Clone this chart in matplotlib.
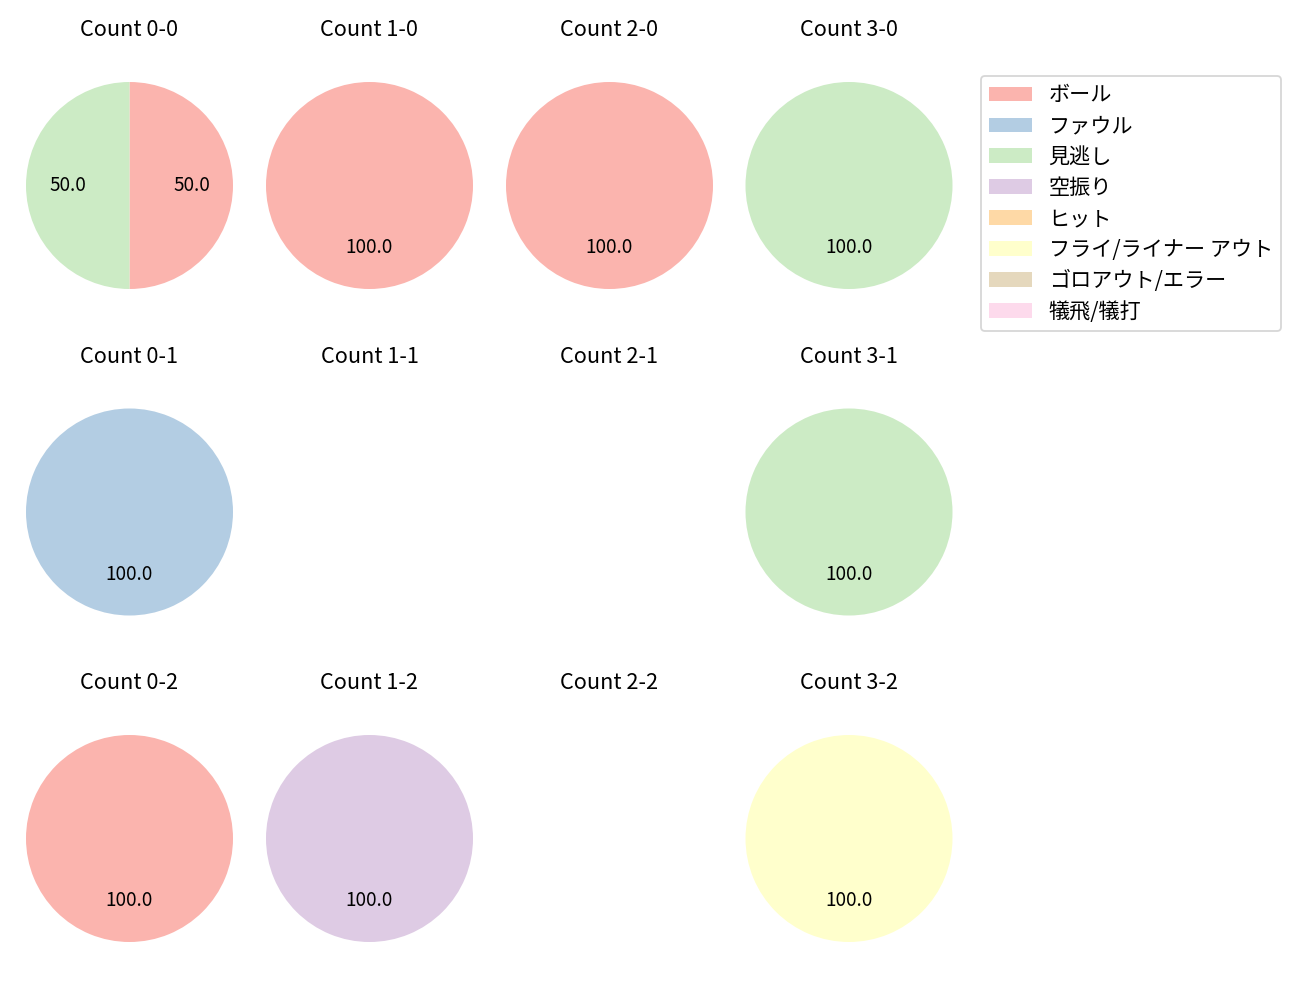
import matplotlib
matplotlib.use("Agg")
import matplotlib.pyplot as plt
from matplotlib.patches import Patch

plt.rcParams['font.family'] = ['Noto Sans CJK JP', 'DejaVu Sans']

categories = ['ボール', 'ファウル', '見逃し', '空振り', 'ヒット',
              'フライ/ライナー アウト', 'ゴロアウト/エラー', '犠飛/犠打']
colors = ['#fbb4ae', '#b3cde3', '#ccebc5', '#decbe4', '#fed9a6',
          '#ffffcc', '#e5d8bd', '#fddaec']

balls = [0, 1, 2, 3]
strikes = [0, 1, 2]

# counts per category for each ball-strike count
count_0_0 = [1, 0, 1, 0, 0, 0, 0, 0]
count_1_0 = [1, 0, 0, 0, 0, 0, 0, 0]
count_2_0 = [1, 0, 0, 0, 0, 0, 0, 0]
count_3_0 = [0, 0, 1, 0, 0, 0, 0, 0]
count_0_1 = [0, 1, 0, 0, 0, 0, 0, 0]
count_1_1 = [0, 0, 0, 0, 0, 0, 0, 0]
count_2_1 = [0, 0, 0, 0, 0, 0, 0, 0]
count_3_1 = [0, 0, 1, 0, 0, 0, 0, 0]
count_0_2 = [1, 0, 0, 0, 0, 0, 0, 0]
count_1_2 = [0, 0, 0, 1, 0, 0, 0, 0]
count_2_2 = [0, 0, 0, 0, 0, 0, 0, 0]
count_3_2 = [0, 0, 0, 0, 0, 1, 0, 0]

data = {
    (0, 0): count_0_0, (1, 0): count_1_0, (2, 0): count_2_0, (3, 0): count_3_0,
    (0, 1): count_0_1, (1, 1): count_1_1, (2, 1): count_2_1, (3, 1): count_3_1,
    (0, 2): count_0_2, (1, 2): count_1_2, (2, 2): count_2_2, (3, 2): count_3_2,
}

W, H = 1300, 1000
fig = plt.figure(figsize=(W / 130, H / 130), dpi=130)

col_cx = [129.5, 369.5, 609.5, 849]
row_cy = [185.5, 512, 838.5]
box = 207 / 0.8

for s in strikes:
    for b in balls:
        cx, cy = col_cx[b], row_cy[s]
        ax = fig.add_axes([(cx - box / 2) / W, 1 - (cy + box / 2) / H, box / W, box / H])
        vals = data[(b, s)]
        sel = [(v, c) for v, c in zip(vals, colors) if v > 0]
        if sel:
            ax.pie([v for v, _ in sel], colors=[c for _, c in sel],
                   autopct='%.1f', startangle=90, counterclock=False,
                   textprops={'fontsize': 10.5})
        else:
            ax.axis('off')
        ax.set_title(f'Count {b}-{s}', pad=11)

handles = [Patch(facecolor=c, label=l) for c, l in zip(colors, categories)]
fig.legend(handles=handles, loc='upper left', bbox_to_anchor=(981 / W, 1 - 76 / H),
           borderaxespad=0, fontsize=11.7, labelspacing=0.42)

fig.savefig('out.png', dpi=130)
